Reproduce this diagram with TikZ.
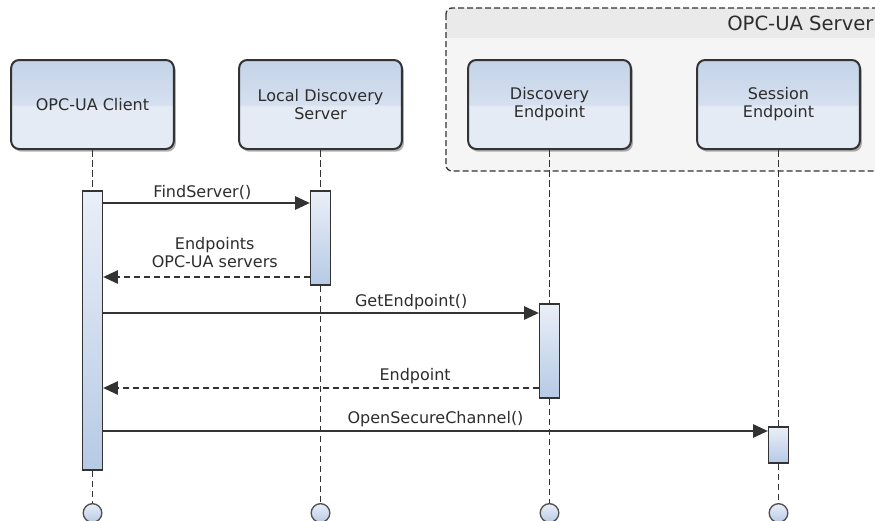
\documentclass[tikz,border=0pt]{standalone}
\usepackage{fontspec}
\setmainfont{DejaVu Sans}
\usepackage{tikz}
\usetikzlibrary{arrows.meta, shadows, fit}
\usepackage{xcolor}
\definecolor{headTop}{RGB}{196, 211, 232}
\definecolor{headMid}{RGB}{213, 224, 239}
\definecolor{headLow}{RGB}{228, 235, 245}
\definecolor{barLight}{RGB}{234, 239, 248}
\definecolor{barDark}{RGB}{182, 202, 229}
\definecolor{lineGray}{RGB}{51, 51, 51}
\definecolor{textGray}{RGB}{45, 45, 45}
\definecolor{frameBody}{RGB}{245, 245, 245}
\definecolor{frameHead}{RGB}{234, 234, 234}
\pgfdeclareverticalshading{headshade}{100bp}{color(0bp)=(headLow); color(25bp)=(headLow); color(49bp)=(headLow); color(50bp)=(headMid); color(75bp)=(headTop); color(100bp)=(headTop)}

\tikzset{
  head/.style={draw=lineGray, line width=1.5pt, rounded corners=6pt, shading=headshade,
    minimum width=122pt, minimum height=66.75pt, align=center, text=textGray,
    font=\fontsize{12}{13.5}\selectfont,
    drop shadow={shadow xshift=1.5pt, shadow yshift=-2pt, opacity=0.3, fill=black}},
  bar/.style={draw=lineGray, line width=1pt, top color=barLight, bottom color=barDark, inner sep=0pt},
  endpt/.style={circle, draw=lineGray!85, line width=1pt, top color=barLight, bottom color=barDark,
    minimum size=14pt, inner sep=0pt},
  life/.style={draw=lineGray, line width=1pt, dash pattern=on 5pt off 2.5pt},
  call/.style={draw=lineGray, line width=1pt, -{Triangle[length=11pt, width=10pt]}},
  reply/.style={call, dash pattern=on 4.5pt off 3pt},
  lbl/.style={anchor=base, inner sep=0pt, text=textGray, font=\fontsize{12}{13.5}\selectfont}
}

\begin{document}
\begin{tikzpicture}[x=0.75pt, y=-0.75pt]
  \clip (0,0) rectangle (875,521);

  % Server frame
  \fill[frameBody, rounded corners=4.5pt] (446,8) rectangle (920,171);
  \begin{scope}
    \clip[rounded corners=4.5pt] (446,8) rectangle (920,171);
    \fill[frameHead] (446,8) rectangle (920,38);
  \end{scope}
  \draw[lineGray, line width=1pt, dash pattern=on 4.5pt off 2.25pt, rounded corners=4.5pt]
    (446,8) rectangle (920,171);
  \node[anchor=base west, inner sep=0pt, text=textGray, font=\fontsize{14.7}{17}\selectfont]
    (srvtitle) at (727,31) {OPC-UA Server};

  % Participants
  \node[head] (client) at (92.5,104.5) {OPC-UA Client};
  \node[head] (lds) at (320.5,104.5) {Local Discovery\\Server};
  \node[head] (disc) at (549.5,104.5) {Discovery\\Endpoint};
  \node[head] (sess) at (778.5,104.5) {Session\\Endpoint};

  % Activation bars
  \node[bar, fit={(82.5,191) (102.5,470)}] (cbar) {};
  \node[bar, fit={(310.5,191) (330.5,285)}] (lbar) {};
  \node[bar, fit={(539.5,304) (559.5,398)}] (dbar) {};
  \node[bar, fit={(768.5,427) (788.5,463)}] (sbar) {};

  % Lifelines
  \coordinate (bottom) at (0,513);
  \foreach \h/\b in {client/cbar, lds/lbar, disc/dbar, sess/sbar} {
    \node[endpt] (\h-end) at (\h |- bottom) {};
    \draw[life] (\h) -- (\b);
    \draw[life] (\b) -- (\h-end);
  }

  % Messages
  \coordinate (m1) at (0,203);
  \coordinate (m2) at (0,277);
  \coordinate (m3) at (0,313);
  \coordinate (m4) at (0,388);
  \coordinate (m5) at (0,431);

  \draw[call] (cbar.east |- m1) -- (lbar.west |- m1)
    node[lbl, pos=0.48, yshift=4pt] {FindServer()};
  \draw[reply] (lbar.west |- m2) -- (cbar.east |- m2)
    node[lbl, pos=0.46, anchor=south, yshift=6.75pt, align=center] {Endpoints\\OPC-UA servers};
  \draw[call] (cbar.east |- m3) -- (dbar.west |- m3)
    node[lbl, pos=0.707, yshift=5pt] {GetEndpoint()};
  \draw[reply] (dbar.west |- m4) -- (cbar.east |- m4)
    node[lbl, pos=0.284, yshift=6pt] {Endpoint};
  \draw[call] (cbar.east |- m5) -- (sbar.west |- m5)
    node[lbl, pos=0.5, yshift=6pt] {OpenSecureChannel()};
\end{tikzpicture}
\end{document}
